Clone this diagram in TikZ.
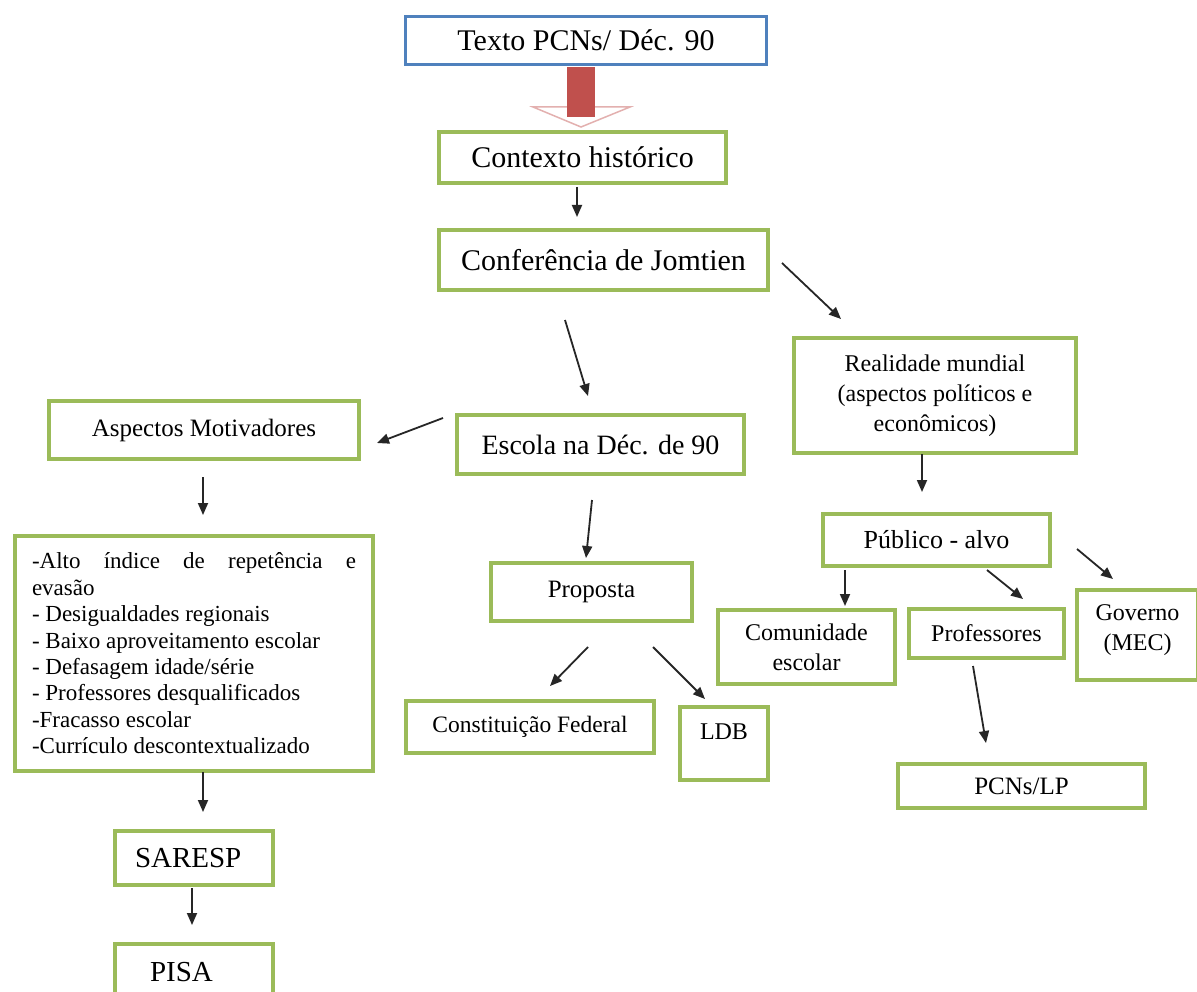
\documentclass[tikz,border=0pt]{standalone}
\usepackage{fontspec}
\setmainfont{Liberation Serif}
\usetikzlibrary{arrows.meta}
\definecolor{gr}{HTML}{9BBB59}
\definecolor{bl}{HTML}{4F81BD}
\definecolor{rd}{HTML}{C0504D}
\newcommand{\fsz}[2]{\fontsize{#1pt}{#2pt}\selectfont}
\begin{document}
\begin{tikzpicture}[x=1pt,y=-1pt,
  gbox/.style={draw=gr, line width=4pt, fill=white, inner sep=0pt, align=center},
  arr/.style={-{Triangle[length=12pt,width=10pt]}, line width=1.8pt, black!85}]
\useasboundingbox (0,0) rectangle (1197,992);
\clip (0,0) rectangle (1197,992);
\fill[white] (0,0) rectangle (1197,992);
% top
\node[draw=bl, line width=3pt, fill=white, minimum width=361pt, minimum height=48pt, inner sep=0pt, font=\fsz{30}{34}] (top) at (586,40.5) {Texto PCNs/ Déc. 90};
% big arrow
\draw[rd!45, line width=1.5pt, fill=white] (533,107) -- (630,107) -- (581,127) -- cycle;
\fill[rd] (567,67) rectangle (595,117);
% boxes
\node[gbox, minimum width=287pt, minimum height=51pt, font=\fsz{30}{34}] (ctx) at (582.5,157.5) {Contexto histórico};
\node[gbox, minimum width=329pt, minimum height=60pt, font=\fsz{30}{34}] (conf) at (603.5,260) {Conferência de Jomtien};
\node[gbox, minimum width=287pt, minimum height=59pt, font=\fsz{28}{32}] (escola) at (600.5,444.5) {Escola na Déc. de 90};
\node[gbox, minimum width=282pt, minimum height=115pt, font=\fsz{24}{30}] (real) at (935,395.5) {Realidade mundial\\(aspectos políticos e\\econômicos)};
\node[gbox, minimum width=310pt, minimum height=58pt, font=\fsz{25}{30}] (asp) at (204,430) {Aspectos Motivadores};
\node[gbox, minimum width=358pt, minimum height=235pt, text width=324pt, align=justify, font=\fsz{23}{26.4}] (list) at (194,653.5) {-Alto índice de repetência e\linebreak evasão\par
- Desigualdades regionais\par
- Baixo aproveitamento escolar\par
- Defasagem idade/série\par
- Professores desqualificados\par
-Fracasso escolar\par
-Currículo descontextualizado};
\node[gbox, minimum width=158pt, minimum height=54pt, text width=118pt, inner xsep=20pt, align=left, font=\fsz{29}{33}] (saresp) at (194,858) {SARESP};
\node[gbox, minimum width=158pt, minimum height=56pt, text width=88pt, inner xsep=35pt, align=left, font=\fsz{29}{33}] (pisa) at (194,972) {PISA};
\node[gbox, minimum width=201pt, minimum height=58pt, font=\fsz{25}{30}] (prop) at (591.5,592) {Proposta};
\node[gbox, minimum width=248pt, minimum height=52pt, font=\fsz{23.5}{28}] (const) at (530,727) {Constituição Federal};
\node[gbox, minimum width=88pt, minimum height=73pt, text depth=23pt, font=\fsz{24}{28}] (ldb) at (724,743.5) {LDB};
\node[gbox, minimum width=227pt, minimum height=52pt, font=\fsz{26}{30}] (pub) at (936.5,540) {Público - alvo};
\node[gbox, minimum width=177pt, minimum height=74pt, font=\fsz{24}{30}] (comun) at (806.5,647) {Comunidade\\escolar};
\node[gbox, minimum width=155pt, minimum height=49pt, font=\fsz{24}{28}] (prof) at (986.5,633.5) {Professores};
\node[gbox, minimum width=121pt, minimum height=90pt, text depth=14pt, font=\fsz{24}{30}] (gov) at (1137.5,635) {Governo\\(MEC)};
\node[gbox, minimum width=247pt, minimum height=44pt, font=\fsz{25}{30}] (pcns) at (1021.5,786) {PCNs/LP};
% arrow end points
\coordinate (a1s) at (577,187);  \coordinate (a1e) at (577,217);
\coordinate (a2s) at (565,320);  \coordinate (a2e) at (588,396);
\coordinate (a3s) at (782,263);  \coordinate (a3e) at (841,319);
\coordinate (a4s) at (443,418);  \coordinate (a4e) at (377,443);
\coordinate (a5s) at (922,454);  \coordinate (a5e) at (922,492);
\coordinate (a6s) at (203,477);  \coordinate (a6e) at (203,515);
\coordinate (a7s) at (203,772);  \coordinate (a7e) at (203,812);
\coordinate (a8s) at (192,888);  \coordinate (a8e) at (192,925);
\coordinate (a9s) at (592,500);  \coordinate (a9e) at (586,558);
\coordinate (a10s) at (588,647); \coordinate (a10e) at (550,686);
\coordinate (a11s) at (653,647); \coordinate (a11e) at (705,699);
\coordinate (a12s) at (845,570); \coordinate (a12e) at (845,606);
\coordinate (a13s) at (987,570); \coordinate (a13e) at (1023,599);
\coordinate (a14s) at (1077,549); \coordinate (a14e) at (1113,579);
\coordinate (a15s) at (973,666); \coordinate (a15e) at (986,743);
\foreach \i in {1,...,15} {\draw[arr] (a\i s) -- (a\i e);}
\end{tikzpicture}
\end{document}
